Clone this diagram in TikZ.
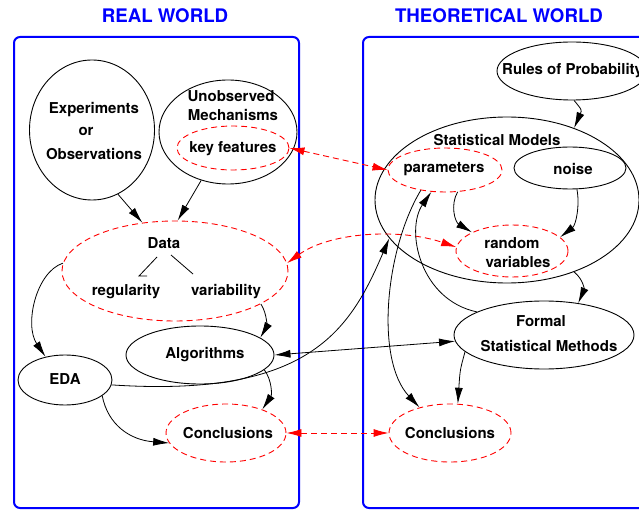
\documentclass[tikz,border=0pt]{standalone}
\usepackage{fontspec}
\setmainfont{TeX Gyre Heros}
\usetikzlibrary{shapes.geometric,arrows.meta}
\begin{document}
\begin{tikzpicture}[x=1pt,y=-1pt,
 ell/.style={draw=black, line width=0.9pt, ellipse, inner sep=0pt},
 rell/.style={draw=red, line width=0.9pt, dash pattern=on 6pt off 4pt, ellipse, inner sep=0pt},
 lbl/.style={font=\fontsize{15}{18}\selectfont\bfseries, inner sep=0pt},
 ttl/.style={font=\fontsize{18.7}{22}\selectfont\bfseries, text=blue, inner sep=0pt},
 world/.style={draw=blue, line width=2pt, rounded corners=6pt},
 conn/.style={line width=0.8pt, -{Latex[length=16pt,width=8pt]}},
 dconn/.style={line width=0.8pt, {Latex[length=16pt,width=8pt]}-{Latex[length=16pt,width=8pt]}},
 rconn/.style={draw=red, line width=0.9pt, dash pattern=on 6pt off 4pt, {Latex[length=15pt,width=8pt]}-{Latex[length=15pt,width=8pt]}},
 plain/.style={line width=0.8pt},
]
\useasboundingbox (0,0) rectangle (639,510);
\clip (0,0) rectangle (639,510);

% worlds
\draw[world] (14,37) rectangle (299,508);
\draw[world] (363,37) rectangle (700,508);
\node[ttl] (rwt) at (165,16) {REAL WORLD};
\node[ttl] (twt) at (499,16) {THEORETICAL WORLD};

% real world shapes
\node[ell, minimum width=125pt, minimum height=140pt] (exp) at (92,130) {};
\node[ell, minimum width=138pt, minimum height=104pt] (um) at (228,132) {};
\node[rell, minimum width=112pt, minimum height=44pt] (kf) at (233,148) {};
\node[rell, minimum width=226pt, minimum height=100pt] (data) at (175,271) {};
\node[ell, minimum width=94pt, minimum height=50pt] (eda) at (65,380) {};
\node[ell, minimum width=148pt, minimum height=58pt] (alg) at (200,355) {};
\node[rell, minimum width=120pt, minimum height=58pt] (conl) at (226,433) {};

% theoretical world shapes
\node[ell, minimum width=150pt, minimum height=58pt] (rules) at (572,71) {};
\node[ell, minimum width=264pt, minimum height=166pt] (stat) at (507,200) {};
\node[rell, minimum width=114pt, minimum height=44pt] (par) at (445,170) {};
\node[ell, minimum width=112pt, minimum height=42pt] (noise) at (570,168) {};
\node[rell, minimum width=112pt, minimum height=52pt] (rv) at (512,251) {};
\node[ell, minimum width=180pt, minimum height=68pt] (fsm) at (544,335) {};
\node[rell, minimum width=122pt, minimum height=58pt] (conr) at (450,433) {};

% texts
\node[lbl] (expt1) at (94,110) {Experiments};
\node[lbl] (expt2) at (86,131) {or};
\node[lbl] (expt3) at (94,154) {Observations};
\node[lbl] (umt1) at (231,96) {Unobserved};
\node[lbl] (umt2) at (233,115) {Mechanisms};
\node[lbl] (kft) at (233,149) {key features};
\node[lbl] (datat) at (164,243) {Data};
\node[lbl] (reg) at (126,292) {regularity};
\node[lbl] (var) at (226,292) {variability};
\node[lbl] (edat) at (65,379) {EDA};
\node[lbl] (algt) at (205,355) {Algorithms};
\node[lbl] (conlt) at (228,433) {Conclusions};
\node[lbl, anchor=west] (rulest) at (502,71) {Rules of Probability};
\node[lbl] (statt) at (497,140) {Statistical Models};
\node[lbl] (part) at (444,169) {parameters};
\node[lbl] (noiset) at (573,169) {noise};
\node[lbl] (rvt1) at (512,243) {random};
\node[lbl] (rvt2) at (518,262) {variables};
\node[lbl] (fsmt1) at (541,321) {Formal};
\node[lbl] (fsmt2) at (549,346) {Statistical Methods};
\node[lbl] (conrt) at (450,433) {Conclusions};

% data internal strokes
\draw[plain] ([xshift=-7pt,yshift=-14pt]datat.center) -- ([xshift=13pt,yshift=16pt]reg.center) -- ([xshift=21pt,yshift=16pt]reg.center);
\draw[plain] ([xshift=7pt,yshift=-12pt]datat.center) -- ([xshift=-33pt,yshift=18pt]var.center);

% connectors
\draw[conn] (exp.-68) -- (data.124);
\draw[conn] (um.-119) -- (data.87);
\draw[rconn] (kf.east) -- (par.west);
\draw[rconn] (data.4.5) .. controls (330,232) and (400,228) .. (rv.176);
\draw[rconn] (conl.east) -- (conr.west);
\draw[conn] (rules.-86) .. controls (582,110) .. (stat.47);
\draw[conn] (par.-60) .. controls (450,205) and (455,222) .. (rv.155);
\draw[conn] (noise.-72) .. controls (580,205) and (576,225) .. (rv.16);
\draw[conn] (stat.-47) .. controls (584,280) and (584,290) .. (fsm.43);
\draw[conn] (fsm.161) .. controls (420,300) and (405,230) .. (par.-122);
\draw[conn] (par.-140) .. controls (385,250) and (375,360) .. (conr.140);
\draw[conn] (fsm.192) .. controls (460,370) .. (conr.75);
\draw[conn] (eda.-6) .. controls (310,398) and (350,330) .. (stat.-162);
\draw[dconn] (alg.east) -- (fsm.-176);
\draw[conn] (data.176) .. controls (36,272) and (24,325) .. (eda.130);
\draw[conn] (data.-21) .. controls (268,315) and (266,328) .. (alg.16);
\draw[conn] (alg.-13) .. controls (272,380) and (272,395) .. (conl.33);
\draw[conn] (eda.-23) .. controls (108,425) and (130,440) .. (conl.-170);
\end{tikzpicture}
\end{document}
